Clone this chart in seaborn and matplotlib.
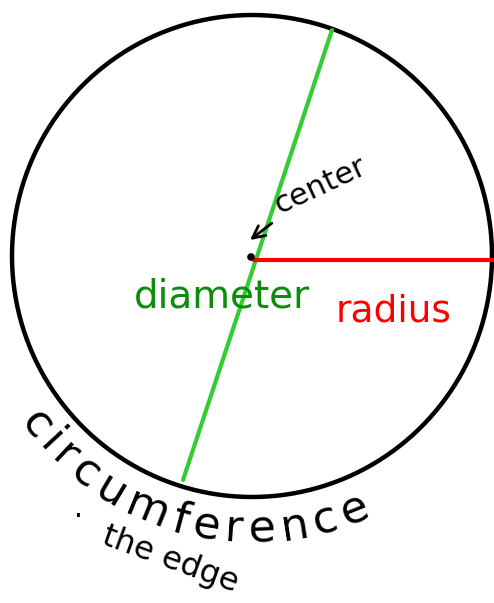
import numpy as np
import pandas as pd
import matplotlib
matplotlib.use('Agg')
import matplotlib.pyplot as plt
import seaborn as sns

# circle geometry (pixel coordinates of the drawing, y grows downward)
center = (252, 256)
radius_x = 240
radius_y = 241
diameter_ends = ([332, 183], [30, 480])
radius_ends = ([254, 494], [260, 260])

labels = ['diameter', 'radius', 'center', 'circumference', '·', 'the edge']
label_colors = ['#0b8c0b', '#ff0000', 'black', 'black', 'black', 'black']

sns.set_style('white')
plt.rcParams['font.family'] = ['DejaVu Sans']

fig = plt.figure(figsize=(4.94, 6.03), dpi=100)
ax = fig.add_axes([0, 0, 1, 1])
ax.set_xlim(0, 494)
ax.set_ylim(603, 0)

# circle outline
t = np.linspace(0, 2 * np.pi, 361)
circle = pd.DataFrame({'x': center[0] + radius_x * np.cos(t),
                       'y': center[1] + radius_y * np.sin(t)})
sns.lineplot(data=circle, x='x', y='y', sort=False, estimator=None,
             color='black', lw=3.2, ax=ax)

# diameter and radius
sns.lineplot(x=diameter_ends[0], y=diameter_ends[1], sort=False, estimator=None,
             color='#33cc33', lw=3, ax=ax)
sns.lineplot(x=radius_ends[0], y=radius_ends[1], sort=False, estimator=None,
             color='#ff0000', lw=3, ax=ax)

# center dot
sns.scatterplot(x=[center[0] - 1], y=[center[1] + 1], color='black', s=30,
                edgecolor='none', ax=ax, zorder=5)

ax.text(222, 297, labels[0], color=label_colors[0], fontsize=28,
        ha='center', va='center')
ax.text(394, 312, labels[1], color=label_colors[1], fontsize=27,
        ha='center', va='center')
ax.annotate(labels[2], xy=(250, 240), xytext=(320, 186), color=label_colors[2],
            fontsize=22, rotation=25, ha='center', va='center',
            arrowprops=dict(arrowstyle='->', color='black', lw=2,
                            shrinkA=32, shrinkB=0))

# circumference written along an arc under the circle, spaced by glyph width
word = labels[3]
fs = 32
renderer = fig.canvas.get_renderer()
widths = []
for ch in word:
    tmp = ax.text(0, 0, ch, fontsize=fs)
    widths.append(tmp.get_window_extent(renderer).width + 3)
    tmp.remove()
widths = np.array(widths)
arc_r = 274
start, end = 142, 68
total = np.deg2rad(start - end) * arc_r
scale = total / (widths.sum() - widths[0] / 2 - widths[-1] / 2)
pos = np.cumsum(widths) - widths / 2 - widths[0] / 2
angles = start - np.rad2deg(pos * scale / arc_r)
for ch, a in zip(word, angles):
    ar = np.deg2rad(a)
    x = center[0] + arc_r * np.cos(ar)
    y = center[1] + arc_r * np.sin(ar)
    ax.text(x, y, ch, fontsize=fs, color=label_colors[3], rotation=90 - a,
            ha='center', va='center', rotation_mode='anchor')

ax.text(78, 517, labels[4], fontsize=20, color=label_colors[4],
        ha='center', va='center')
ax.text(170, 560, labels[5], fontsize=23, color=label_colors[5], rotation=-20,
        ha='center', va='center', rotation_mode='anchor')

ax.axis('off')
if ax.get_legend():
    ax.get_legend().remove()

plt.savefig('out.png', dpi=100)
